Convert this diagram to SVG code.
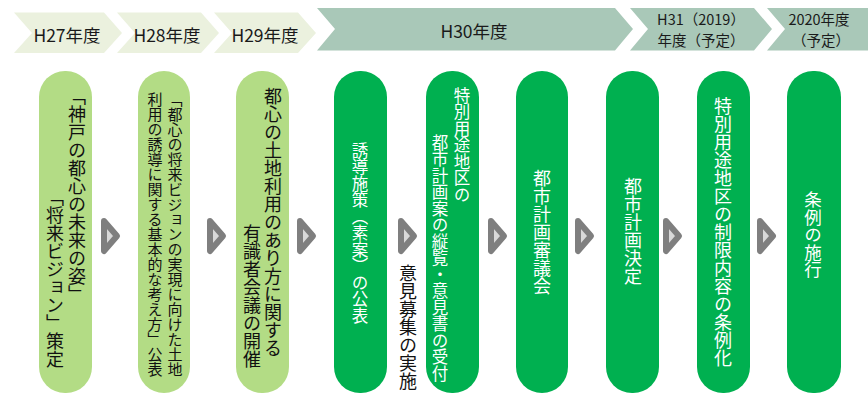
<svg xmlns="http://www.w3.org/2000/svg" width="868" height="394" viewBox="0 0 868 394">
<style>
.hl{fill:#EBF1DE}
.hd{fill:#A9C8B8}
.ht{font-family:"Noto Sans CJK JP","Liberation Sans",sans-serif;font-size:17.5px;fill:#1a1a1a;text-anchor:middle}
.h2{font-size:14.5px}
.pl{fill:#B3DC85}
.pd{fill:#00B050}
.v{font-family:"Noto Sans CJK JP",sans-serif;writing-mode:vertical-rl;font-size:18px;fill:#111}
.w{fill:#fff}
.arr{fill:#D9D9D9;stroke:#7F7F7F;stroke-width:6;stroke-linejoin:round}
</style>
<g id="headers">
<g id="h27"><polygon class="hl" points="14,12.5 104,12.5 122,33 104,53 14,53 32,33"/><text class="ht" x="67" y="41.5">H27年度</text></g>
<g id="h28"><polygon class="hl" points="117,12.5 201,12.5 219,33 201,53 117,53 135,33"/><text class="ht" x="167" y="41.5">H28年度</text></g>
<g id="h29"><polygon class="hl" points="214,12.5 298,12.5 316,33 298,53 214,53 232,33"/><text class="ht" x="265" y="41.5">H29年度</text></g>
<g id="h30"><polygon class="hd" points="317,8 615,8 633,29 615,50.5 317,50.5 335,29"/><text class="ht" x="474" y="37.5">H30年度</text></g>
<g id="h31"><polygon class="hd" points="630,8 754,8 772,29 754,50.5 630,50.5 648,29"/><text class="ht h2" x="701" y="24.5">H31（2019）</text><text class="ht h2" x="701" y="46">年度（予定）</text></g>
<g id="h2020"><polygon class="hd" points="767,8 870,8 888,29 870,50.5 767,50.5 785,29"/><text class="ht h2" x="819" y="24.5">2020年度</text><text class="ht h2" x="821" y="46">（予定）</text></g>
</g>
<g id="n1"><rect class="pl" x="39" y="71" width="53" height="322" rx="26"/><text class="v" x="77" y="87">「神戸の都心の未来の姿」</text><text class="v" x="55" y="188">「将来ビジョン」策定</text></g>
<g id="n2"><rect class="pl" x="138" y="71" width="52" height="322" rx="26"/><text class="v" style="font-size:15px" x="175" y="92">「都心の将来ビジョンの実現に向けた土地</text><text class="v" style="font-size:15px" x="155" y="92">利用の誘導に関する基本的な考え方」公表</text></g>
<g id="n3"><rect class="pl" x="236" y="71" width="53" height="322" rx="26"/><text class="v" x="273" y="87">都心の土地利用のあり方に関する</text><text class="v" x="252" y="224">有識者会議の開催</text></g>
<g id="n4"><rect class="pd" x="334" y="71" width="53" height="322" rx="26"/><text class="v w" style="font-size:16.5px" x="360" y="142">誘導施策（素案）の公表</text></g>
<g id="n4b"><text class="v" x="408" y="264">意見募集の実施</text></g>
<g id="n5"><rect class="pd" x="426" y="71" width="53" height="322" rx="26"/><text class="v w" style="font-size:16.5px" x="462" y="87">特別用途地区の</text><text class="v w" style="font-size:16.5px" x="440" y="134">都市計画案の縦覧・意見書の受付</text></g>
<g id="n6"><rect class="pd" x="516" y="71" width="52" height="322" rx="26"/><text class="v w" x="542" y="169">都市計画審議会</text></g>
<g id="n7"><rect class="pd" x="606" y="71" width="53" height="322" rx="26"/><text class="v w" x="633" y="177">都市計画決定</text></g>
<g id="n8"><rect class="pd" x="697" y="71" width="53" height="322" rx="26"/><text class="v w" x="723" y="97">特別用途地区の制限内容の条例化</text></g>
<g id="n9"><rect class="pd" x="787" y="71" width="54" height="322" rx="26"/><text class="v w" style="font-size:17.5px" x="813" y="191">条例の施行</text></g>
<g id="connectors">
<polygon class="arr" points="104,221 117,236 104,251"/>
<polygon class="arr" points="210,221 223,236 210,251"/>
<polygon class="arr" points="300,221 313,236 300,251"/>
<polygon class="arr" points="401,221 414,236 401,251"/>
<polygon class="arr" points="491,221 504,236 491,251"/>
<polygon class="arr" points="578,221 591,236 578,251"/>
<polygon class="arr" points="666,221 679,236 666,251"/>
<polygon class="arr" points="760,221 773,236 760,251"/>
</g>
</svg>
